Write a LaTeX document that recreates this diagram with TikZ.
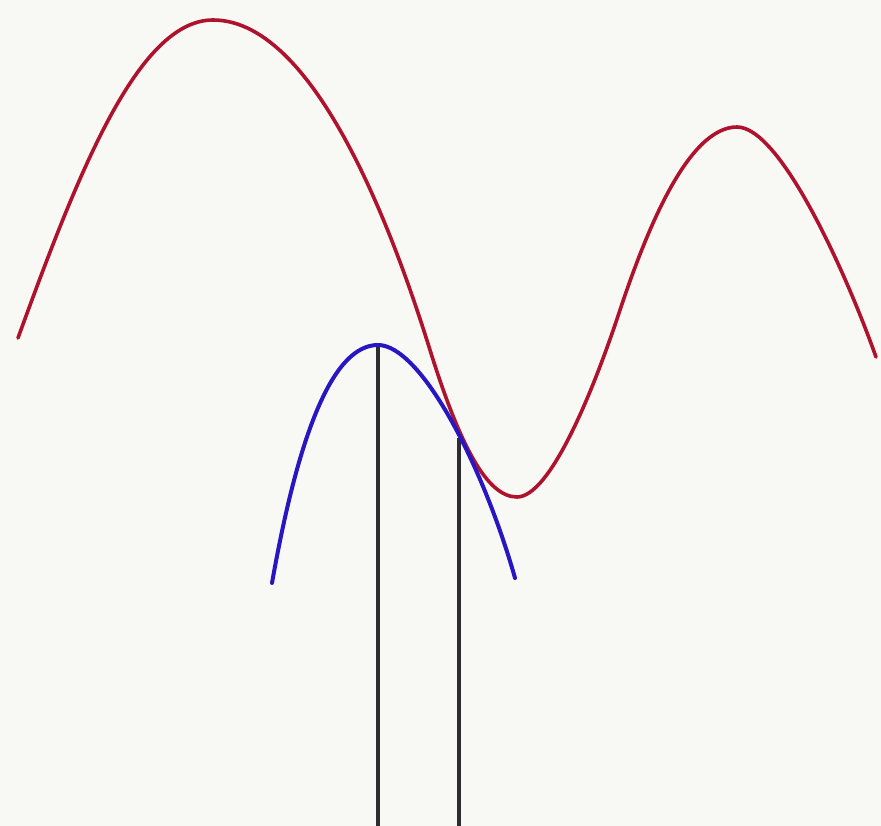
\documentclass[tikz,border=0pt]{standalone}
\begin{document}
\begin{tikzpicture}[x=1pt,y=-1pt,line cap=round,line join=round]
\definecolor{bg}{RGB}{248,248,245}
\definecolor{curvered}{RGB}{175,18,45}
\definecolor{curveblue}{RGB}{40,22,195}
\definecolor{linegray}{RGB}{45,45,45}
\tikzset{
  redcurve/.style={draw=curvered,line width=3.6pt},
  bluecurve/.style={draw=curveblue,line width=4pt},
  vline/.style={draw=linegray,line width=3.6pt,line cap=butt}
}
\fill[bg] (0,0) rectangle (881,826);
\useasboundingbox (0,0) rectangle (881,826);
% named points
\coordinate (vtx) at (378,345);
\coordinate (tan) at (459,438);
\coordinate (vbot) at (378,826);
\coordinate (tbot) at (459,826);
% vertical lines
\draw[vline] (vtx) -- (vbot);
\draw[vline] (tan) -- (tbot);
% red curve
\draw[redcurve] (18,338) .. controls (78,173) and (138,20) .. (213,20)
  .. controls (320,20) and (400,254) .. (430,350)
  .. controls (460,446) and (487,497) .. (517,497)
  .. controls (550,497) and (593,392) .. (620,310)
  .. controls (645,235) and (687,127) .. (737,127)
  .. controls (780,127) and (845,270) .. (876,357);
% blue parabola
\draw[bluecurve] (272,583) .. controls (300,425) and (335,345) .. (vtx)
  .. controls (420,345) and (482,462) .. (515,578);
\end{tikzpicture}
\end{document}
